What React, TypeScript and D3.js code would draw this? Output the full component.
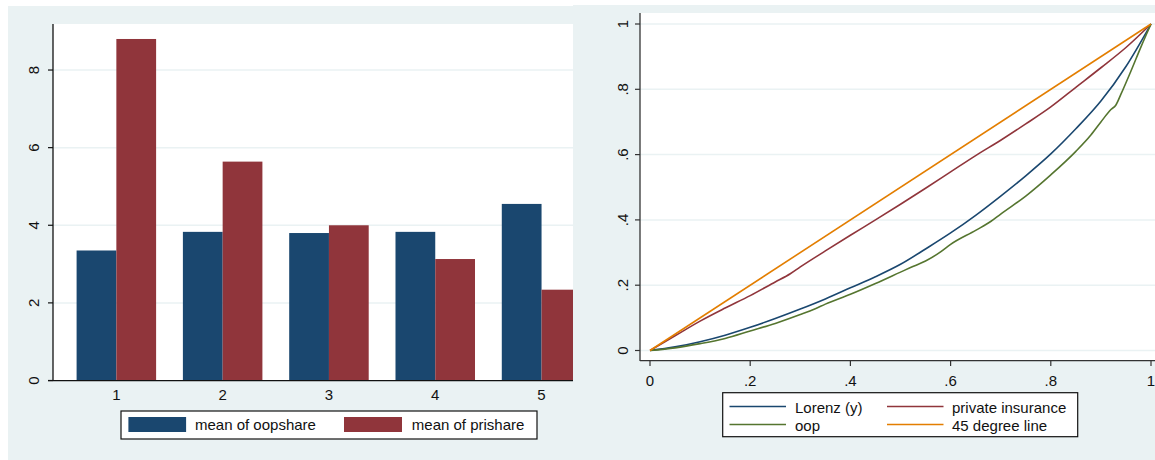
import React from "react";
import * as d3 from "d3";

const categories = ["1", "2", "3", "4", "5"];
const seriesNames = ["mean of oopshare", "mean of prishare"];
const oopshare = [3.35, 3.83, 3.8, 3.83, 4.55];
const prishare = [8.8, 5.64, 4.0, 3.13, 2.34];
const barYTicks = [0, 2, 4, 6, 8];

const lorenzX = [0, 0.05, 0.1, 0.15, 0.2, 0.25, 0.3, 0.35, 0.4, 0.45, 0.5, 0.55, 0.6, 0.65, 0.7, 0.75, 0.8, 0.85, 0.9, 0.95, 1];
const lorenzY = [0, 0.011, 0.027, 0.047, 0.071, 0.098, 0.127, 0.158, 0.192, 0.226, 0.264, 0.311, 0.36, 0.414, 0.473, 0.535, 0.602, 0.679, 0.764, 0.87, 1];

const oopX = [0, 0.05, 0.1, 0.15, 0.2, 0.25, 0.3, 0.33, 0.35, 0.4, 0.45, 0.5, 0.52, 0.55, 0.58, 0.6, 0.65, 0.68, 0.7, 0.75, 0.8, 0.85, 0.88, 0.9, 0.92, 0.93, 0.94, 0.96, 0.98, 1];
const oopY = [0, 0.008, 0.021, 0.037, 0.06, 0.083, 0.11, 0.128, 0.142, 0.172, 0.205, 0.24, 0.254, 0.274, 0.302, 0.325, 0.368, 0.395, 0.418, 0.473, 0.538, 0.61, 0.66, 0.7, 0.738, 0.752, 0.785, 0.856, 0.93, 1];

const priX = [0, 0.05, 0.1, 0.15, 0.2, 0.25, 0.28, 0.3, 0.35, 0.4, 0.45, 0.5, 0.55, 0.6, 0.65, 0.7, 0.75, 0.8, 0.85, 0.9, 0.95, 1];
const priY = [0, 0.045, 0.09, 0.13, 0.168, 0.21, 0.235, 0.256, 0.305, 0.353, 0.4, 0.448, 0.497, 0.547, 0.597, 0.644, 0.694, 0.746, 0.806, 0.866, 0.928, 1];

const diagX = [0, 1];
const diagY = [0, 1];

const lineTicks = [0, 0.2, 0.4, 0.6, 0.8, 1];
const tickLabel = (v: number) => (v === 0 ? "0" : v === 1 ? "1" : String(v).replace(/^0/, ""));

const BG = "#eaf2f3";
const NAVY = "#1a476f";
const MAROON = "#90353b";
const GREEN = "#55752f";
const ORANGE = "#e37e00";
const FONT = "Arial, 'Liberation Sans', sans-serif";

export default function App() {
  // left panel scales
  const xBand = d3.scaleBand<string>().domain(categories).range([53, 604.9]).paddingInner(0.252).paddingOuter(0.222);
  const xInner = d3.scaleBand<string>().domain(seriesNames).range([0, xBand.bandwidth()]);
  const yBar = d3.scaleLinear().domain([0, 9.186]).range([380.5, 24]);

  // right panel scales
  const xL = d3.scaleLinear().domain([0, 1]).range([650, 1151]);
  const yL = d3.scaleLinear().domain([0, 1]).range([350.5, 24]);
  const mk = (xs: number[], ys: number[], smooth: boolean) =>
    d3
      .line<number>()
      .x((_, i) => xL(xs[i]))
      .y((_, i) => yL(ys[i]))
      .curve(smooth ? d3.curveMonotoneX : d3.curveLinear)(xs) || "";

  const series = [
    { name: "Lorenz (y)", xs: lorenzX, ys: lorenzY, color: NAVY, smooth: true },
    { name: "private insurance", xs: priX, ys: priY, color: MAROON, smooth: true },
    { name: "oop", xs: oopX, ys: oopY, color: GREEN, smooth: true },
    { name: "45 degree line", xs: diagX, ys: diagY, color: ORANGE, smooth: false },
  ];
  const legendPos = [
    { x1: 729.5, tx: 795, y: 406.5 },
    { x1: 887, tx: 952, y: 406.5 },
    { x1: 729.5, tx: 795, y: 424.5 },
    { x1: 887, tx: 952, y: 424.5 },
  ];

  const values = [oopshare, prishare];
  const colors = [NAVY, MAROON];

  return (
    <svg width={1155} height={460} style={{ position: "absolute", left: 0, top: 0 }} fontFamily={FONT}>
      <defs>
        <clipPath id="leftClip">
          <rect x={0} y={0} width={573} height={460} />
        </clipPath>
      </defs>
      <rect x={0} y={0} width={1155} height={460} fill="#fff" />
      {/* LEFT PANEL */}
      <g clipPath="url(#leftClip)">
        <rect x={8} y={6} width={600} height={454} fill={BG} />
        <rect x={53} y={24} width={560} height={356.5} fill="#fff" />
        {barYTicks.filter((t) => t > 0).map((t) => (
          <line key={t} x1={53} x2={613} y1={yBar(t)} y2={yBar(t)} stroke={BG} strokeWidth={1.5} />
        ))}
        {categories.map((c, i) => (
          <g key={c}>
            {seriesNames.map((s, j) => (
              <rect
                key={s}
                x={(xBand(c) as number) + (xInner(s) as number)}
                y={yBar(values[j][i])}
                width={xInner.bandwidth()}
                height={yBar(0) - yBar(values[j][i])}
                fill={colors[j]}
              />
            ))}
            <text x={(xBand(c) as number) + xBand.bandwidth() / 2} y={400} fontSize={15} textAnchor="middle" fill="#111">
              {c}
            </text>
          </g>
        ))}
        <line x1={53} x2={53} y1={24} y2={381} stroke="#111" strokeWidth={1.3} />
        <line x1={48} x2={613} y1={380.7} y2={380.7} stroke="#111" strokeWidth={1.3} />
        {barYTicks.map((t) => (
          <g key={t}>
            <line x1={48} x2={53} y1={yBar(t)} y2={yBar(t)} stroke="#111" strokeWidth={1.2} />
            <text transform={`translate(39.3,${yBar(t)}) rotate(-90)`} fontSize={15} textAnchor="middle" fill="#111">
              {t}
            </text>
          </g>
        ))}
        {/* legend */}
        <rect x={121} y={411} width={416} height={28} fill="#fff" stroke="#111" strokeWidth={1.2} />
        <rect x={128.4} y={417} width={57.7} height={15} fill={NAVY} />
        <text x={195} y={429.5} fontSize={15} fill="#111">{seriesNames[0]}</text>
        <rect x={344} y={417} width={58} height={15} fill={MAROON} />
        <text x={411.8} y={429.5} fontSize={15} fill="#111">{seriesNames[1]}</text>
      </g>

      {/* RIGHT PANEL */}
      <rect x={573} y={5} width={582} height={455} fill={BG} />
      <rect x={640} y={13} width={515} height={347.7} fill="#fff" />
      {lineTicks.map((t) => (
        <line key={t} x1={640} x2={1155} y1={yL(t)} y2={yL(t)} stroke={BG} strokeWidth={1.5} />
      ))}
      {series.map((s) => (
        <path key={s.name} d={mk(s.xs, s.ys, s.smooth)} fill="none" stroke={s.color} strokeWidth={1.6} strokeLinejoin="round" />
      ))}
      <line x1={640} x2={640} y1={13} y2={361} stroke="#333" strokeWidth={1.3} />
      <line x1={640} x2={1155} y1={360.7} y2={360.7} stroke="#333" strokeWidth={1.3} />
      {lineTicks.map((t) => (
        <g key={"y" + t}>
          <line x1={635} x2={640} y1={yL(t)} y2={yL(t)} stroke="#333" strokeWidth={1.2} />
          <text transform={`translate(628.3,${yL(t)}) rotate(-90)`} fontSize={15} textAnchor="middle" fill="#111">
            {tickLabel(t)}
          </text>
        </g>
      ))}
      {lineTicks.map((t) => (
        <g key={"x" + t}>
          <line x1={xL(t)} x2={xL(t)} y1={360.7} y2={366} stroke="#333" strokeWidth={1.2} />
          <text x={xL(t)} y={385.5} fontSize={15} textAnchor="middle" fill="#111">
            {tickLabel(t)}
          </text>
        </g>
      ))}
      {/* legend */}
      <rect x={722.7} y={392.7} width={355} height={44} fill="#fff" stroke="#111" strokeWidth={1.2} />
      {series.map((s, i) => (
        <g key={"lg" + s.name}>
          <line x1={legendPos[i].x1} x2={legendPos[i].x1 + 56.5} y1={legendPos[i].y} y2={legendPos[i].y} stroke={s.color} strokeWidth={1.6} />
          <text x={legendPos[i].tx} y={legendPos[i].y + 6} fontSize={15} fill="#111">
            {s.name}
          </text>
        </g>
      ))}
    </svg>
  );
}
